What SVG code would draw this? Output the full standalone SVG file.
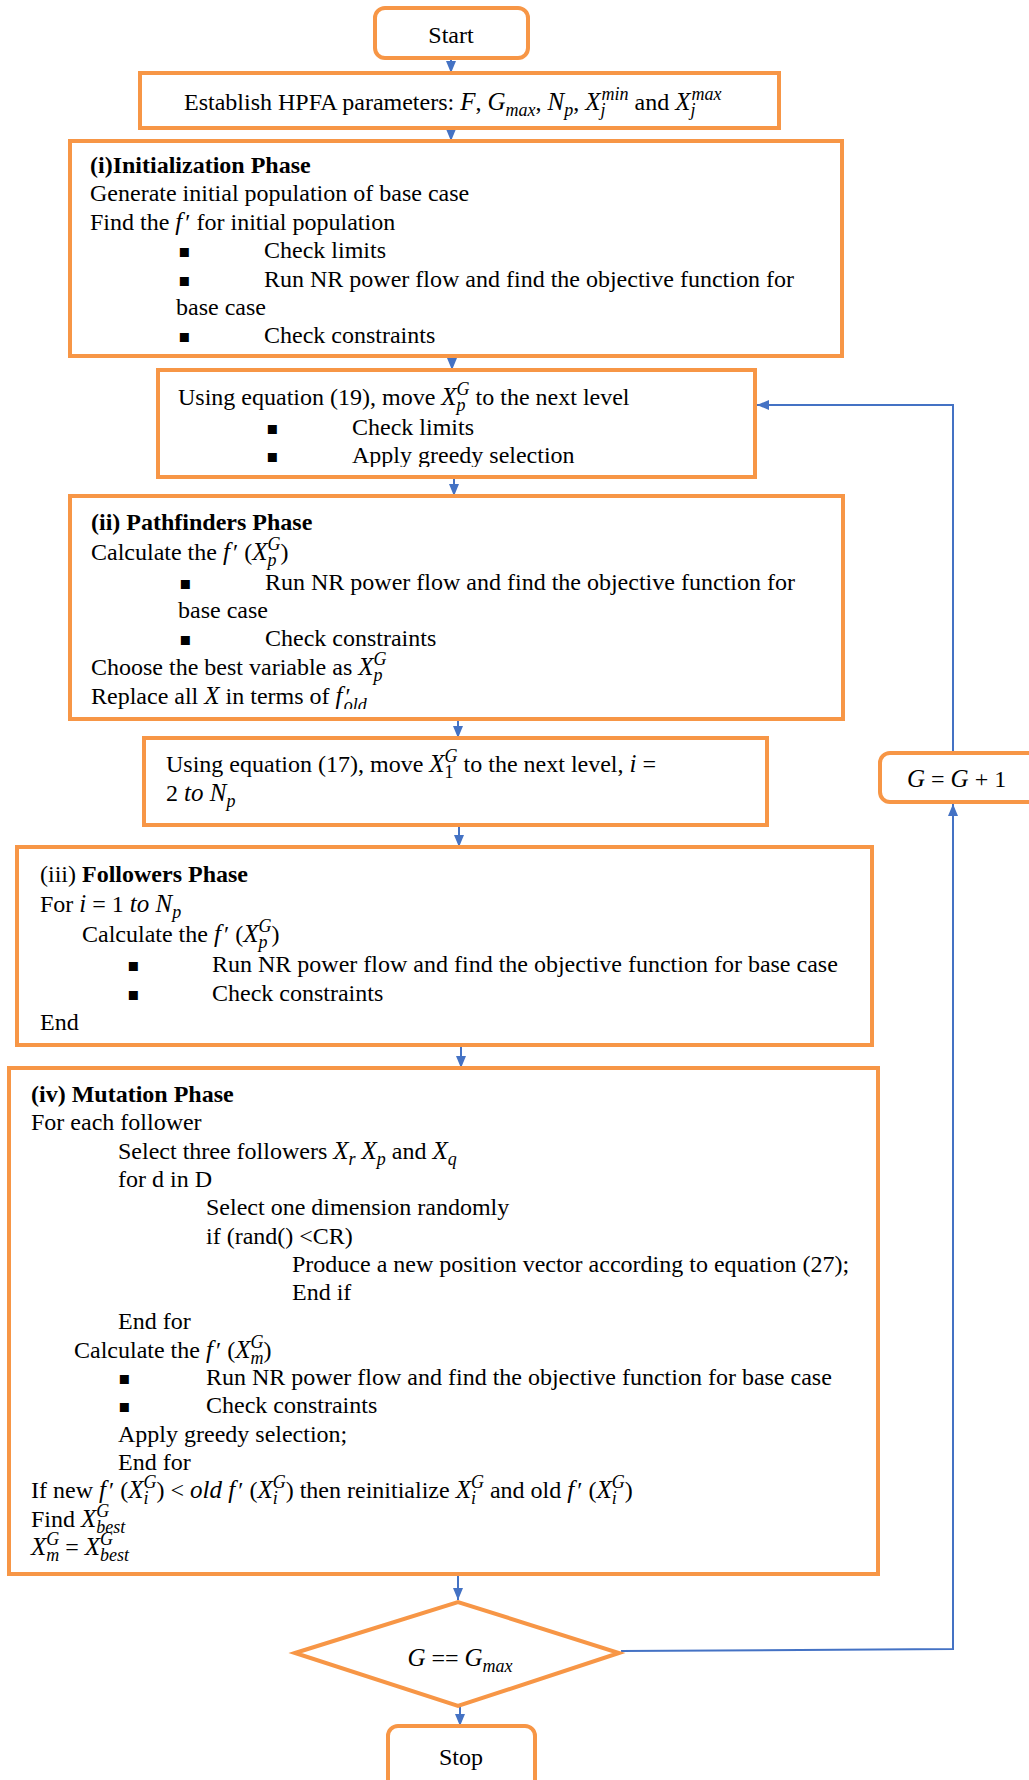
<svg xmlns="http://www.w3.org/2000/svg" width="1029" height="1780" viewBox="0 0 1029 1780">
<style>
.box{fill:#fff;stroke:#F79646;stroke-width:4}
.c{fill:none;stroke:#4472C4;stroke-width:2}
text{font-family:"Liberation Serif","Times New Roman",serif;font-size:24px;fill:#000}
.b{font-weight:bold}
.i{font-style:italic;font-size:25px}
.s{font-size:18px}
.bl{font-family:"DejaVu Sans",sans-serif;font-size:18px}
.mid{text-anchor:middle}
</style>
<defs>
<marker id="ah" viewBox="0 0 12 10" refX="12" refY="5" markerWidth="12" markerHeight="10" markerUnits="userSpaceOnUse" orient="auto">
<path d="M0,0 L12,5 L0,10 z" fill="#4472C4"/>
</marker>
<clipPath id="clip19"><rect x="150" y="360" width="620" height="107"/></clipPath>
<clipPath id="clipPF"><rect x="60" y="490" width="800" height="219"/></clipPath>
</defs>

<g id="connectors">
<line class="c" x1="451" y1="58" x2="451" y2="73" marker-end="url(#ah)"/>
<line class="c" x1="451" y1="128" x2="451" y2="141" marker-end="url(#ah)"/>
<line class="c" x1="452" y1="356" x2="452" y2="370" marker-end="url(#ah)"/>
<line class="c" x1="454" y1="477" x2="454" y2="496" marker-end="url(#ah)"/>
<line class="c" x1="458" y1="719" x2="458" y2="738" marker-end="url(#ah)"/>
<line class="c" x1="459" y1="825" x2="459" y2="847" marker-end="url(#ah)"/>
<line class="c" x1="461" y1="1045" x2="461" y2="1068" marker-end="url(#ah)"/>
<line class="c" x1="458" y1="1574" x2="458" y2="1600" marker-end="url(#ah)"/>
<line class="c" x1="460" y1="1706" x2="460" y2="1726" marker-end="url(#ah)"/>
<polyline class="c" points="621,1651 953,1649 953,804" marker-end="url(#ah)"/>
<polyline class="c" points="953,751 953,405 757,405" marker-end="url(#ah)"/>
</g>

<g id="start">
<rect class="box" x="375" y="8" width="153" height="50" rx="10"/>
<text class="mid" x="451" y="43">Start</text>
</g>

<g id="params">
<rect class="box" x="140" y="73" width="639" height="55"/>
<text x="184" y="110">Establish HPFA parameters: <tspan class="i">F</tspan>, <tspan class="i">G</tspan><tspan class="i s" dy="6">max</tspan><tspan dy="-6">, </tspan><tspan class="i">N</tspan><tspan class="i s" dy="6">p</tspan><tspan dy="-6">, </tspan><tspan class="i">X</tspan><tspan class="i s" dy="6">j</tspan><tspan class="i s" dx="-4" dy="-16">min</tspan><tspan dy="10"> and </tspan><tspan class="i">X</tspan><tspan class="i s" dy="6">j</tspan><tspan class="i s" dx="-4" dy="-16">max</tspan></text>
</g>

<g id="init">
<rect class="box" x="70" y="141" width="772" height="215"/>
<text class="b" x="90" y="173">(i)Initialization Phase</text>
<text x="90" y="201">Generate initial population of base case</text>
<text x="90" y="230">Find the <tspan class="i">f</tspan><tspan dx="3">′</tspan> for initial population</text>
<text class="bl" x="178" y="257">▪</text>
<text x="264" y="258">Check limits</text>
<text class="bl" x="178" y="286">▪</text>
<text x="264" y="287">Run NR power flow and find the objective function for</text>
<text x="176" y="315">base case</text>
<text class="bl" x="178" y="342">▪</text>
<text x="264" y="343">Check constraints</text>
</g>

<g id="move19">
<rect class="box" x="158" y="370" width="597" height="107"/>
<g clip-path="url(#clip19)">
<text x="178" y="405">Using equation (19), move <tspan class="i">X</tspan><tspan class="i s" dy="6">p</tspan><tspan class="i s" dx="-9" dy="-16">G</tspan><tspan dy="10"> to the next level</tspan></text>
<text class="bl" x="266" y="434">▪</text>
<text x="352" y="435">Check limits</text>
<text class="bl" x="266" y="462">▪</text>
<text x="352" y="463">Apply greedy selection</text>
</g>
</g>

<g id="pathfinders">
<rect class="box" x="70" y="496" width="773" height="223"/>
<g clip-path="url(#clipPF)">
<text class="b" x="91" y="530">(ii) Pathfinders Phase</text>
<text x="91" y="560">Calculate the <tspan class="i">f</tspan><tspan dx="3">′</tspan> (<tspan class="i">X</tspan><tspan class="i s" dy="6">p</tspan><tspan class="i s" dx="-9" dy="-16">G</tspan><tspan dy="10">)</tspan></text>
<text class="bl" x="179" y="589">▪</text>
<text x="265" y="590">Run NR power flow and find the objective function for</text>
<text x="178" y="618">base case</text>
<text class="bl" x="179" y="645">▪</text>
<text x="265" y="646">Check constraints</text>
<text x="91" y="675">Choose the best variable as <tspan class="i">X</tspan><tspan class="i s" dy="6">p</tspan><tspan class="i s" dx="-9" dy="-16">G</tspan></text>
<text x="91" y="704">Replace all <tspan class="i">X</tspan> in terms of <tspan class="i">f</tspan><tspan dx="3">′</tspan><tspan class="i s" dx="-7" dy="7">old</tspan></text>
</g>
</g>

<g id="move17">
<rect class="box" x="144" y="738" width="623" height="87"/>
<text x="166" y="772">Using equation (17), move <tspan class="i">X</tspan><tspan class="s" dy="6">1</tspan><tspan class="i s" dx="-9" dy="-16">G</tspan><tspan dy="10"> to the next level, </tspan><tspan class="i">i</tspan> =</text>
<text x="166" y="801">2 <tspan class="i">to N</tspan><tspan class="i s" dy="6">p</tspan></text>
</g>

<g id="followers">
<rect class="box" x="17" y="847" width="855" height="198"/>
<text x="40" y="882">(iii) <tspan class="b">Followers Phase</tspan></text>
<text x="40" y="912">For <tspan class="i">i</tspan> = 1 <tspan class="i">to N</tspan><tspan class="i s" dy="6">p</tspan></text>
<text x="82" y="942">Calculate the <tspan class="i">f</tspan><tspan dx="3">′</tspan> (<tspan class="i">X</tspan><tspan class="i s" dy="6">p</tspan><tspan class="i s" dx="-9" dy="-16">G</tspan><tspan dy="10">)</tspan></text>
<text class="bl" x="127" y="971">▪</text>
<text x="212" y="972">Run NR power flow and find the objective function for base case</text>
<text class="bl" x="127" y="1000">▪</text>
<text x="212" y="1001">Check constraints</text>
<text x="40" y="1030">End</text>
</g>

<g id="mutation">
<rect class="box" x="9" y="1068" width="869" height="506"/>
<text class="b" x="31" y="1102">(iv) Mutation Phase</text>
<text x="31" y="1130">For each follower</text>
<text x="118" y="1159">Select three followers <tspan class="i">X</tspan><tspan class="i s" dy="6">r</tspan><tspan dy="-6">  </tspan><tspan class="i">X</tspan><tspan class="i s" dy="6">p</tspan><tspan dy="-6"> and </tspan><tspan class="i">X</tspan><tspan class="i s" dy="6">q</tspan></text>
<text x="118" y="1187">for d in D</text>
<text x="206" y="1215">Select one dimension randomly</text>
<text x="206" y="1244">if (rand() &lt;CR)</text>
<text x="292" y="1272">Produce a new position vector according to equation (27);</text>
<text x="292" y="1300">End if</text>
<text x="118" y="1329">End for</text>
<text x="74" y="1358">Calculate the <tspan class="i">f</tspan><tspan dx="3">′</tspan> (<tspan class="i">X</tspan><tspan class="i s" dy="6">m</tspan><tspan class="i s" dx="-13" dy="-16">G</tspan><tspan dy="10">)</tspan></text>
<text class="bl" x="118" y="1384">▪</text>
<text x="206" y="1385">Run NR power flow and find the objective function for base case</text>
<text class="bl" x="118" y="1412">▪</text>
<text x="206" y="1413">Check constraints</text>
<text x="118" y="1442">Apply greedy selection;</text>
<text x="118" y="1470">End for</text>
<text x="31" y="1498">If new <tspan class="i">f</tspan><tspan dx="3">′</tspan> (<tspan class="i">X</tspan><tspan class="i s" dy="6">i</tspan><tspan class="i s" dx="-5" dy="-16">G</tspan><tspan dy="10">) &lt; </tspan><tspan class="i">old f</tspan><tspan dx="3">′</tspan> (<tspan class="i">X</tspan><tspan class="i s" dy="6">i</tspan><tspan class="i s" dx="-5" dy="-16">G</tspan><tspan dy="10">) then reinitialize </tspan><tspan class="i">X</tspan><tspan class="i s" dy="6">i</tspan><tspan class="i s" dx="-5" dy="-16">G</tspan><tspan dy="10"> and old </tspan><tspan class="i">f</tspan><tspan dx="3">′</tspan> (<tspan class="i">X</tspan><tspan class="i s" dy="6">i</tspan><tspan class="i s" dx="-5" dy="-16">G</tspan><tspan dy="10">)</tspan></text>
<text x="31" y="1527">Find <tspan class="i">X</tspan><tspan class="i s" dy="-10">G</tspan><tspan class="i s" dx="-13" dy="16">best</tspan></text>
<text x="31" y="1555"><tspan class="i">X</tspan><tspan class="i s" dy="6">m</tspan><tspan class="i s" dx="-13" dy="-16">G</tspan><tspan dy="10"> = </tspan><tspan class="i">X</tspan><tspan class="i s" dy="-10">G</tspan><tspan class="i s" dx="-13" dy="16">best</tspan></text>
</g>

<g id="decision">
<polygon class="box" points="295,1653 458,1602 619,1653 458,1706"/>
<text class="mid" x="460" y="1666"><tspan class="i">G</tspan> == <tspan class="i">G</tspan><tspan class="i s" dy="6">max</tspan></text>
</g>

<g id="stop">
<rect class="box" x="388" y="1726" width="147" height="70" rx="10"/>
<text class="mid" x="461" y="1765">Stop</text>
</g>

<g id="increment">
<rect class="box" x="880" y="753" width="170" height="49" rx="10"/>
<text x="907" y="787"><tspan class="i">G</tspan> = <tspan class="i">G</tspan> + 1</text>
</g>
</svg>
